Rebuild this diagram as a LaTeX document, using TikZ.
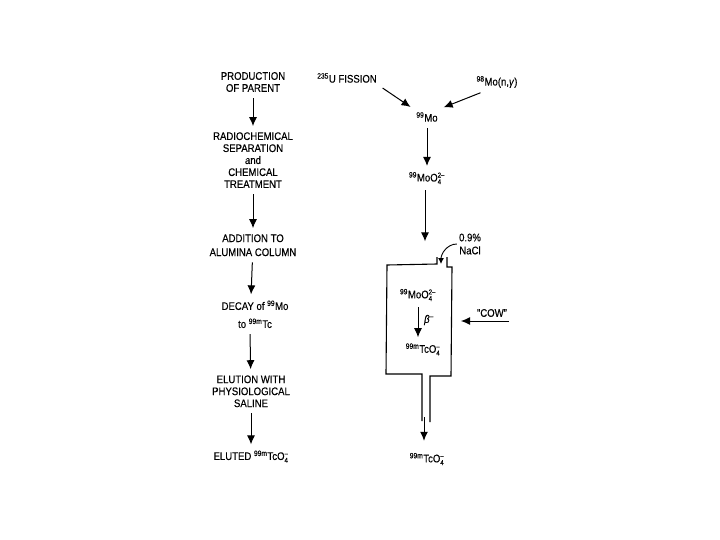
\documentclass[tikz,border=0pt]{standalone}
\usepackage{fontspec}
\setmainfont[FakeStretch=0.87,FakeBold=0.25]{Liberation Sans}
\usetikzlibrary{positioning, arrows.meta}
\newcommand{\ionscripts}[2]{$_{\mbox{\scriptsize #1}}^{\mbox{\scriptsize #2}}$}

\begin{document}
\begin{tikzpicture}[
    x=1pt,
    y=-1pt,
    stage/.style={
        align=center,
        inner sep=4pt,
        font=\fontsize{11}{12}\selectfont
    },
    arrow/.style={
        -{Latex[length=9pt,width=8pt]},
        line width=1pt,
        shorten >=2pt,
        shorten <=2pt
    },
    smallarrow/.style={
        -{Latex[length=6pt,width=6pt]},
        line width=0.9pt
    },
    column/.style={
        line width=1.1pt
    }
]
\useasboundingbox (0,0) rectangle (720,540);

% left column
\node[stage] at (253,82) (production) {PRODUCTION\\OF PARENT};
\node[stage, below=32pt of production] (separation) {RADIOCHEMICAL\\SEPARATION\\and\\CHEMICAL\\TREATMENT};
\node[stage, below=38pt of separation] (addition) {ADDITION TO\\[2pt]ALUMINA COLUMN};
\node[stage, below=36pt of addition, xshift=2pt] (decay) {DECAY of \textsuperscript{99}Mo\\[6pt]to \textsuperscript{99m}Tc};
\node[stage, below=39pt of decay, xshift=-4pt] (elution) {ELUTION WITH\\PHYSIOLOGICAL\\SALINE};
\node[stage, below=35pt of elution] (eluted) {ELUTED \textsuperscript{99m}TcO\ionscripts{4}{--}};

\draw[arrow] (production) -- (separation);
\draw[arrow] (separation) -- (addition);
\draw[arrow] (addition) -- ([xshift=-4pt]decay.north);
\draw[arrow] ([xshift=-5pt]decay.south) -- (elution);
\draw[arrow] (elution) -- (eluted);

% right column
\node[stage] at (347,78) (fission) {\textsuperscript{235}U FISSION};
\node[stage] at (497,82) (capture) {\textsuperscript{98}Mo(n,\textit{γ})};
\node[stage] at (427,117) (moly) {\textsuperscript{99}Mo};
\node[stage, below=42pt of moly] (molybdate) {\textsuperscript{99}MoO\ionscripts{4}{2--}};
\coordinate[below=55pt of molybdate, xshift=-2pt] (feed);

\draw[arrow] (fission.south east) -- (moly.north west);
\draw[arrow] ([xshift=10pt]capture.south west) -- (moly.north east);
\draw[arrow] (moly) -- (molybdate);
\draw[arrow] ([xshift=-2pt]molybdate.south) -- (feed);

% column
\draw[column] (437,257) -- (437,264) -- (387,265) -- (386,374) -- (422,374) -- (422,421);
\draw[column] (447,257) -- (447,267) -- (452,267) -- (451,376) -- (430,376) -- (430,422);

\node[stage, inner sep=2pt] at (470,244) (saline) {0.9\%\\[1pt]NaCl};
\coordinate (inlet) at (441,264);
\draw[smallarrow] (saline.west) to[out=180, in=90] (inlet);

\node[stage] at (418,295) (parent) {\textsuperscript{99}MoO\ionscripts{4}{2--}};
\node[stage, below=34pt of parent, xshift=5pt] (daughter) {\textsuperscript{99m}TcO\ionscripts{4}{--}};
\node[stage] at (429,320) (beta) {\textit{β}\textsuperscript{--}};
\draw[arrow] (parent.south) -- ([xshift=-5pt]daughter.north);

\node[stage, inner sep=2pt] at (492,313) (cow) {"COW"};
\coordinate (cowtip) at (461,321);
\draw[arrow, shorten >=0pt, shorten <=0pt] (cow.south east |- cowtip) -- (cowtip);

\coordinate (tube) at (424,417);
\node[stage] at (427,459) (pertechnetate) {\textsuperscript{99m}TcO\ionscripts{4}{--}};
\draw[arrow, shorten <=0pt, shorten >=8pt] (tube) -- (tube |- pertechnetate.north);

\end{tikzpicture}
\end{document}
